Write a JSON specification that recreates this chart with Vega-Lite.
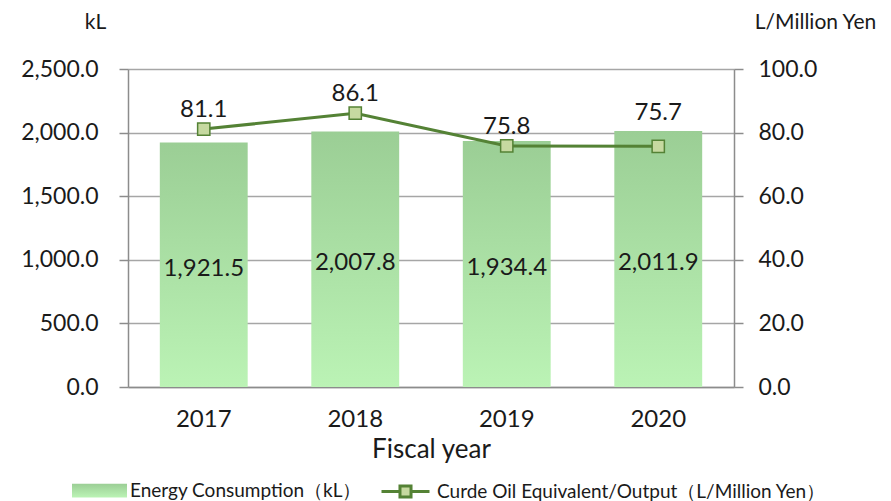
{
  "$schema": "https://vega.github.io/schema/vega-lite/v6.json",
  "autosize": {"type": "none"},
  "width": 606,
  "height": 318,
  "padding": {"left": 128, "top": 69, "right": 157, "bottom": 114},
  "background": "white",
  "config": {
    "font": "Lato",
    "view": {"stroke": null},
    "axis": {"labelColor": "#1a1a1a", "titleColor": "#1a1a1a", "labelFontWeight": "normal", "titleFontWeight": "normal"}
  },
  "data": {
    "values": [
      {"year": "2017", "energy": 1921.5, "intensity": 81.1},
      {"year": "2018", "energy": 2007.8, "intensity": 86.1},
      {"year": "2019", "energy": 1934.4, "intensity": 75.8},
      {"year": "2020", "energy": 2011.9, "intensity": 75.7}
    ]
  },
  "encoding": {
    "x": {
      "field": "year", "type": "ordinal",
      "scale": {"paddingInner": 0.42, "paddingOuter": 0.21},
      "axis": {
        "title": "Fiscal year", "titleFontSize": 26, "titlePadding": 5,
        "labelAngle": 0, "labelFontSize": 24, "labelPadding": 20,
        "ticks": false, "domainColor": "#8c8c8c", "domainWidth": 1.5
      }
    }
  },
  "layer": [
    {
      "layer": [
        {
          "mark": {
            "type": "bar",
            "color": {
              "gradient": "linear", "x1": 0, "y1": 0, "x2": 0, "y2": 1,
              "stops": [{"offset": 0, "color": "#9bce95"}, {"offset": 1, "color": "#bbf3b5"}]
            }
          },
          "encoding": {
            "y": {
              "field": "energy", "type": "quantitative",
              "scale": {"domain": [0, 2500], "nice": false},
              "axis": {
                "title": "kL", "titleAngle": 0, "titleX": -33, "titleY": -47,
                "titleAlign": "center", "titleBaseline": "middle", "titleFontSize": 21,
                "values": [0, 500, 1000, 1500, 2000, 2500], "format": ",.1f",
                "labelFontSize": 23, "labelPadding": 21,
                "tickSize": 9, "tickColor": "#8c8c8c", "tickWidth": 1.5,
                "domainColor": "#8c8c8c", "domainWidth": 1.5,
                "grid": true, "gridColor": "#a6a6a6", "gridWidth": 1.5
              }
            },
            "opacity": {
              "datum": "Energy Consumption（kL）",
              "scale": {"range": [1]},
              "legend": {
                "title": null, "orient": "none", "legendX": -56, "legendY": 394,
                "padding": 0, "labelFontSize": 19, "labelOffset": 3, "labelLimit": 0,
                "symbolType": "M-1,-0.25L1,-0.25L1,0.25L-1,0.25Z",
                "symbolSize": 3025, "symbolFillColor": "#aee2a7",
                "symbolStrokeWidth": 0, "symbolOpacity": 1, "labelColor": "#1a1a1a"
              }
            }
          }
        },
        {
          "transform": [{"calculate": "datum.energy / 2", "as": "mid"}],
          "mark": {"type": "text", "fontSize": 24, "color": "#1a1a1a", "baseline": "middle", "dy": 4},
          "encoding": {
            "y": {"field": "mid", "type": "quantitative", "scale": {"domain": [0, 2500], "nice": false}},
            "text": {"field": "energy", "type": "quantitative", "format": ",.1f"}
          }
        }
      ]
    },
    {
      "layer": [
        {
          "mark": {"type": "line", "color": "#548235", "strokeWidth": 3},
          "encoding": {
            "y": {
              "field": "intensity", "type": "quantitative",
              "scale": {"domain": [0, 100], "nice": false},
              "axis": {
                "orient": "right",
                "title": "L/Million Yen", "titleAngle": 0, "titleX": 81, "titleY": -47,
                "titleAlign": "center", "titleBaseline": "middle", "titleFontSize": 21,
                "values": [0, 20, 40, 60, 80, 100], "format": ".1f",
                "labelFontSize": 23, "labelPadding": 15,
                "tickSize": 9, "tickColor": "#8c8c8c", "tickWidth": 1.5,
                "domainColor": "#8c8c8c", "domainWidth": 1.5, "grid": false
              }
            },
            "opacity": {
              "datum": "Curde Oil Equivalent/Output（L/Million Yen）",
              "scale": {"range": [1]},
              "legend": {
                "title": null, "orient": "none", "legendX": 252, "legendY": 397,
                "padding": 0, "labelFontSize": 19, "labelOffset": 6, "labelLimit": 0,
                "symbolType": "M-1,0L-0.23,0M0.23,0L1,0M-0.23,-0.23L0.23,-0.23L0.23,0.23L-0.23,0.23Z",
                "symbolSize": 2304, "symbolFillColor": "#c6d9a0",
                "symbolStrokeColor": "#548235", "symbolStrokeWidth": 3,
                "symbolOpacity": 1, "labelColor": "#1a1a1a"
              }
            }
          }
        },
        {
          "mark": {"type": "point", "shape": "square", "size": 150, "filled": true, "fill": "#c6d9a0", "stroke": "#548235", "strokeWidth": 1.5, "opacity": 1},
          "encoding": {
            "y": {"field": "intensity", "type": "quantitative", "scale": {"domain": [0, 100], "nice": false}}
          }
        },
        {
          "transform": [{"filter": "datum.year != '2020'"}],
          "mark": {"type": "text", "fontSize": 24, "color": "#1a1a1a", "baseline": "middle", "dy": -19},
          "encoding": {
            "y": {"field": "intensity", "type": "quantitative", "scale": {"domain": [0, 100], "nice": false}},
            "text": {"field": "intensity", "type": "quantitative", "format": ".1f"}
          }
        },
        {
          "transform": [{"filter": "datum.year == '2020'"}],
          "mark": {"type": "text", "fontSize": 24, "color": "#1a1a1a", "baseline": "middle", "dy": -33},
          "encoding": {
            "y": {"field": "intensity", "type": "quantitative", "scale": {"domain": [0, 100], "nice": false}},
            "text": {"field": "intensity", "type": "quantitative", "format": ".1f"}
          }
        }
      ]
    }
  ],
  "resolve": {"scale": {"y": "independent", "opacity": "independent"}, "legend": {"opacity": "independent"}}
}
